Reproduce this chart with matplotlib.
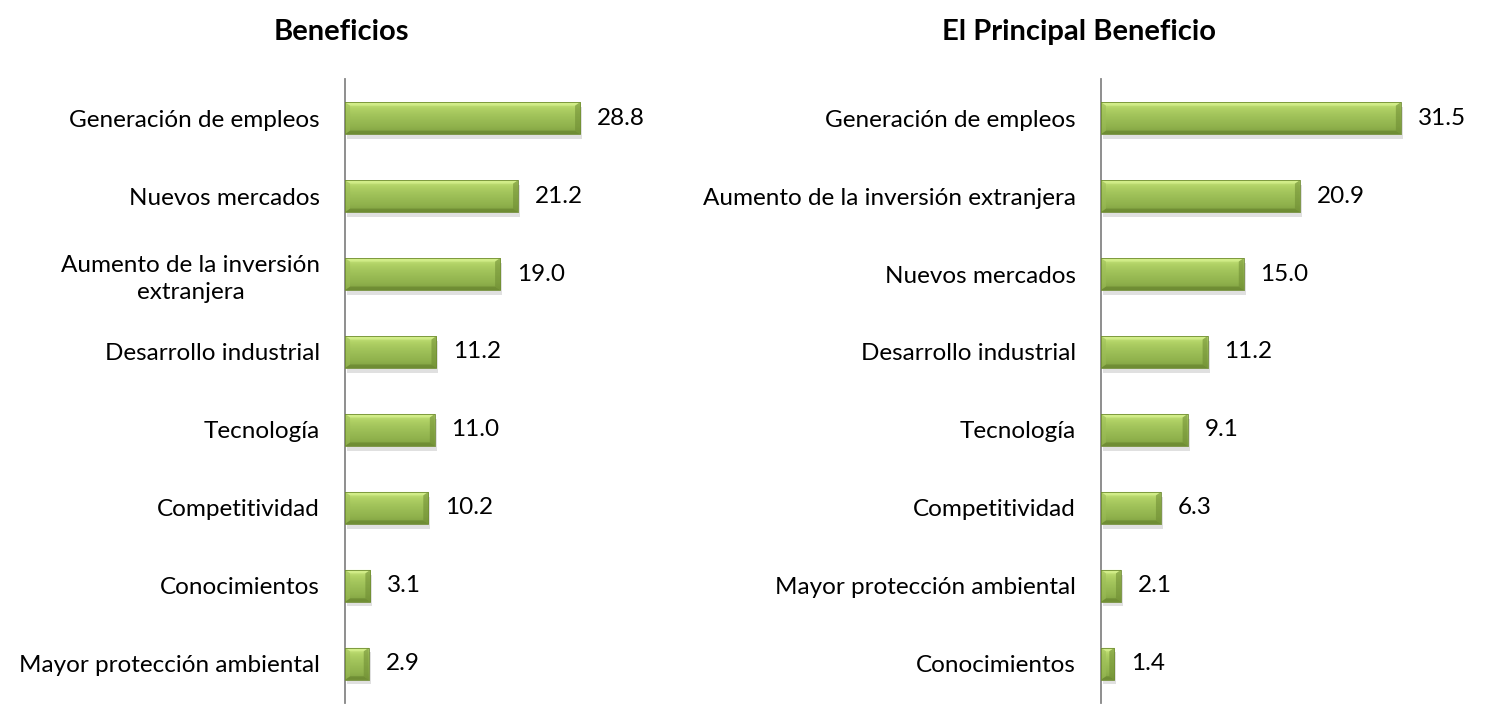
import numpy as np
import matplotlib
matplotlib.use("Agg")
import matplotlib.pyplot as plt
from matplotlib.colors import LinearSegmentedColormap

plt.rcParams["font.family"] = ["Lato", "DejaVu Sans"]

# datos
left_title = "Beneficios"
left_cats = ["Generación de empleos", "Nuevos mercados",
             "Aumento de la inversión\nextranjera", "Desarrollo industrial",
             "Tecnología", "Competitividad", "Conocimientos",
             "Mayor protección ambiental"]
left_vals = [28.8, 21.2, 19.0, 11.2, 11.0, 10.2, 3.1, 2.9]

right_title = "El Principal Beneficio"
right_cats = ["Generación de empleos", "Aumento de la inversión extranjera",
              "Nuevos mercados", "Desarrollo industrial", "Tecnología",
              "Competitividad", "Mayor protección ambiental", "Conocimientos"]
right_vals = [31.5, 20.9, 15.0, 11.2, 9.1, 6.3, 2.1, 1.4]

BAR_H = 0.41
FS = 17.5
grad = LinearSegmentedColormap.from_list(
    "bevel", ["#c9e77e", "#b0d165", "#a2c45b", "#98ba53", "#8eb04b", "#7f9f40"])


def bevel_bars(ax, cats, vals, xmax, px):
    # px = unidades de datos por pixel en x
    y = np.arange(len(cats))
    # sombra
    ax.barh(y + 0.06, vals, height=BAR_H, left=2 * px, color="#000000",
            alpha=0.12, zorder=1, linewidth=0)
    bars = ax.barh(y, vals, height=BAR_H, color="#9bbb59", linewidth=0, zorder=2)
    img = np.linspace(0, 1, 64).reshape(-1, 1)
    eh = BAR_H * 0.11
    for b in bars:
        x0, y0, w, h = b.get_x(), b.get_y(), b.get_width(), b.get_height()
        im = ax.imshow(img, aspect="auto", cmap=grad, origin="upper",
                       extent=(x0, x0 + w, y0 + h, y0), zorder=3)
        im.set_clip_path(b)
        d = min(5 * px, w / 2)
        # bisel: arriba claro, abajo oscuro, extremos
        ax.fill([x0, x0 + w, x0 + w - d, x0 + d], [y0, y0, y0 + eh, y0 + eh],
                color="#dcf594", alpha=0.6, zorder=4, linewidth=0)
        ax.fill([x0, x0 + w, x0 + w - d, x0 + d],
                [y0 + h, y0 + h, y0 + h - eh, y0 + h - eh],
                color="#5e7a28", alpha=0.5, zorder=4, linewidth=0)
        ax.fill([x0, x0 + d, x0 + d, x0], [y0, y0 + eh, y0 + h - eh, y0 + h],
                color="#9dbd58", alpha=0.5, zorder=4, linewidth=0)
        ax.fill([x0 + w, x0 + w - d, x0 + w - d, x0 + w],
                [y0, y0 + eh, y0 + h - eh, y0 + h],
                color="#6d8b32", alpha=0.55, zorder=4, linewidth=0)
        ax.plot([x0, x0 + w, x0 + w, x0, x0], [y0, y0, y0 + h, y0 + h, y0],
                color="#6f8c32", linewidth=0.6, zorder=5)
    for yi, v in zip(y, vals):
        ax.annotate(f"{v:.1f}", xy=(v, yi), xytext=(12, 0),
                    textcoords="offset points", va="center", ha="left",
                    fontsize=FS, color="#000000")
    ax.set_xlim(0, xmax)
    ax.set_ylim(len(cats) - 0.5, -0.5)
    ax.set_yticks(y)
    ax.set_yticklabels(cats, fontsize=FS, multialignment="center",
                       linespacing=1.35)
    ax.tick_params(axis="y", length=0, pad=18)
    ax.set_xticks([])
    for s in ["top", "right", "bottom"]:
        ax.spines[s].set_visible(False)
    ax.spines["left"].set_color("#868686")
    ax.spines["left"].set_linewidth(1.3)


fig = plt.figure(figsize=(14.88, 7.07), dpi=100)
ax1 = fig.add_axes([0.2319, 0.006, 0.19, 0.882])
ax2 = fig.add_axes([0.7399, 0.006, 0.23, 0.882])

bevel_bars(ax1, left_cats, left_vals, 0.19 * 1488 / 8.16, 1 / 8.16)
bevel_bars(ax2, right_cats, right_vals, 0.23 * 1488 / 9.52, 1 / 9.52)

fig.text(341 / 1488, 1 - 32 / 707, left_title, ha="center", va="center",
         fontsize=21, fontweight="bold")
fig.text(1079 / 1488, 1 - 32 / 707, right_title, ha="center", va="center",
         fontsize=21, fontweight="bold")

fig.savefig("out.png", dpi=100)
